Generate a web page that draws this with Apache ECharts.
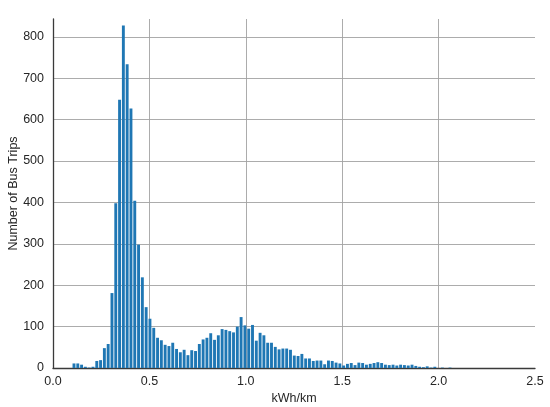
<!DOCTYPE html>
<html>
<head>
<meta charset="utf-8">
<script src="https://cdn.jsdelivr.net/npm/echarts@6/dist/echarts.min.js"></script>
<style>html,body{margin:0;padding:0;background:#fff}#c{width:550px;height:407px}</style>
</head>
<body>
<div id="c"></div>
<script>
// Histogram bins: start and width (kWh/km)
const binStart = 0.099;
const binWidth = 0.0197;
// Number of bus trips per bin
const counts = [
  11, 11, 8, 3, 1, 3, 17, 19, 48, 58,
  181, 398, 648, 827, 734, 627, 404, 298, 219, 147,
  119, 97, 73, 67, 56, 53, 61, 46, 38, 44,
  31, 43, 41, 58, 69, 73, 84, 68, 79, 94,
  92, 89, 86, 100, 123, 103, 95, 104, 66, 85,
  79, 61, 61, 51, 45, 47, 47, 44, 30, 29,
  34, 23, 23, 17, 18, 18, 9, 18, 17, 13,
  11, 6, 10, 12, 7, 13, 12, 8, 10, 12,
  14, 12, 8, 7, 8, 6, 8, 7, 6, 8,
  5, 3, 2, 4, 1, 3, 0, 1, 0, 1
];
const xTicks = [0.0, 0.5, 1.0, 1.5, 2.0, 2.5];
const yTicks = [0, 100, 200, 300, 400, 500, 600, 700, 800];

const data = counts.map((c, i) => [binStart + i * binWidth, binStart + (i + 1) * binWidth, c]);

const chart = echarts.init(document.getElementById('c'), null, {renderer: 'canvas'});
const font = 'Liberation Sans, Arial, sans-serif';
chart.setOption({
  animation: false,
  grid: {left: 53, right: 15, top: 19, bottom: 39, containLabel: false, outerBoundsMode: 'none'},
  xAxis: {
    type: 'value', min: xTicks[0], max: xTicks[xTicks.length - 1], interval: 0.5,
    name: 'kWh/km', nameLocation: 'middle', nameGap: 24, nameMoveOverlap: false,
    nameTextStyle: {fontFamily: font, fontSize: 12.5, color: '#262626'},
    axisLine: {show: true, lineStyle: {color: '#3a3a3a', width: 1.3}},
    axisTick: {show: false},
    axisLabel: {fontFamily: font, fontSize: 12.5, color: '#262626', margin: 7,
      formatter: v => v.toFixed(1)},
    splitLine: {show: true, showMinLine: false, showMaxLine: false, lineStyle: {color: '#a3a3a3', width: 0.9}}
  },
  yAxis: {
    type: 'value', min: 0, max: 843, interval: 100,
    name: 'Number of Bus Trips', nameLocation: 'middle', nameGap: 33, nameRotate: 90, nameMoveOverlap: false,
    nameTextStyle: {fontFamily: font, fontSize: 12.5, color: '#262626'},
    axisLine: {show: true, lineStyle: {color: '#3a3a3a', width: 1.3}},
    axisTick: {show: false},
    axisLabel: {fontFamily: font, fontSize: 12.5, color: '#262626', margin: 9, showMaxLabel: false},
    splitLine: {show: true, showMinLine: false, showMaxLine: false, lineStyle: {color: '#a3a3a3', width: 0.9}}
  },
  series: [{
    type: 'custom',
    data: data,
    encode: {x: [0, 1], y: 2},
    renderItem: function (params, api) {
      const p0 = api.coord([api.value(0), api.value(2)]);
      const p1 = api.coord([api.value(1), 0]);
      const gap = 0.9;
      return {
        type: 'rect',
        shape: {x: p0[0] + gap / 2, y: p0[1], width: p1[0] - p0[0] - gap, height: p1[1] - p0[1]},
        style: {fill: '#1f77b4'}
      };
    }
  }]
});
</script>
</body>
</html>
